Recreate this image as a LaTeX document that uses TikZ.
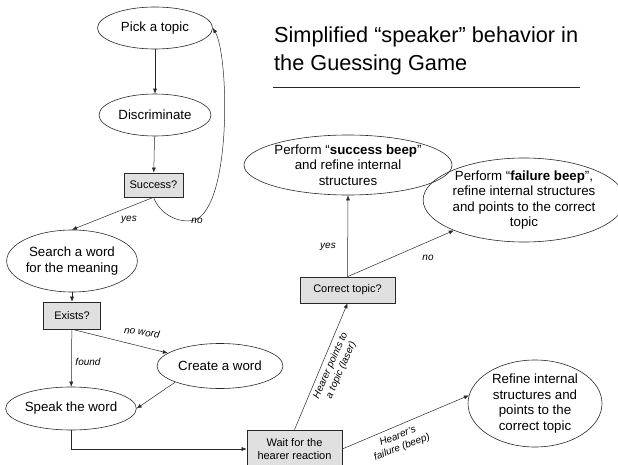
\documentclass[tikz,border=0pt]{standalone}
\usepackage{fontspec}
\setmainfont{Liberation Sans}
\usetikzlibrary{shapes.geometric,arrows.meta}
\definecolor{boxfill}{RGB}{224,224,224}
\definecolor{linecol}{RGB}{40,40,40}
\begin{document}
\begin{tikzpicture}[x=1pt,y=-1pt,
  ell/.style={ellipse,draw=linecol,line width=0.6pt,inner sep=0pt,align=center,font=\fontsize{13.3}{15.5}\selectfont},
  boxn/.style={rectangle,draw=linecol,line width=0.6pt,fill=boxfill,inner sep=0pt,align=center,font=\fontsize{11}{13.5}\selectfont},
  arr/.style={draw=linecol,line width=0.5pt,-{Latex[length=5pt,width=4pt]}},
  lab/.style={font=\fontsize{10}{12}\selectfont\itshape,inner sep=0pt,align=center}]
\useasboundingbox (0,0) rectangle (618,465);
% title
\node[anchor=west,font=\fontsize{21.7}{28}\selectfont,align=left,inner sep=0pt] (title) at (274,51) {Simplified “speaker” behavior in\\the Guessing Game};
\draw[linecol,line width=0.6pt] (273,87) coordinate (tl) -- (580,87) coordinate (tr);
% left column
\node[ell,minimum width=115,minimum height=42] (pick) at (155,28) {Pick a topic};
\node[ell,minimum width=112,minimum height=42] (disc) at (155,115) {Discriminate};
\node[boxn,minimum width=59,minimum height=24] (succ) at (153.5,185) {Success?};
\node[ell,minimum width=127,minimum height=62] (search) at (72,261) {Search a word\\for the meaning};
\node[boxn,minimum width=57,minimum height=27] (exists) at (72,315.5) {Exists?};
\node[ell,minimum width=126,minimum height=45] (create) at (220,366) {Create a word};
\node[ell,minimum width=125,minimum height=43] (speak) at (71,408.5) {Speak the word};
\node[boxn,minimum width=95,minimum height=38] (wait) at (294.5,449) {Wait for the\\hearer reaction};
% right part
\node[boxn,minimum width=95,minimum height=26] (correct) at (347.5,290) {Correct topic?};
\node[ell,minimum width=193,minimum height=60] (sbeep) at (348,165) {Perform “\textbf{success beep}”\\and refine internal\\structures};
\node[ell,minimum width=188,minimum height=84] (fbeep) at (524,200) {Perform “\textbf{failure beep}”,\\refine internal structures\\and points to the correct\\topic};
\node[ell,minimum width=134,minimum height=87] (refine) at (535,403.5) {Refine internal\\structures and\\points to the\\correct topic};
% connectors
\draw[arr] (pick) -- (disc);
\draw[arr] (disc) -- (succ);
\draw[arr] (succ.south) -- (search.north);
\draw[arr] (succ.south) .. controls (160,214) and (178,224) .. (195,220) .. controls (232,205) and (229,55) .. (pick.east);
\draw[arr] (search) -- (exists);
\draw[arr] (exists) -- (speak);
\draw[arr] (exists.south) -- (create);
\draw[arr] (create.south west) -- (speak.east);
\draw[arr] (speak.south) |- (wait.west);
\draw[arr] (wait.north) -- (correct.south);
\draw[arr] (wait.east) -- (refine.173);
\draw[arr] (correct.north) -- (sbeep.south);
\draw[arr] (correct.north) -- (fbeep);
% labels
\node[lab] (lyes1) at (129,220) {yes};
\node[lab] (lno1) at (197,221) {no};
\node[lab,rotate=-8] (lnoword) at (142,332) {no word};
\node[lab] (lfound) at (88,362) {found};
\node[lab] (lyes2) at (328,247) {yes};
\node[lab] (lno2) at (428,258) {no};
\node[lab,font=\fontsize{10}{11.5}\selectfont\itshape,rotate=66] (lpoint) at (336,368) {Hearer points to\\a topic (laser)};
\node[lab,font=\fontsize{10}{11.5}\selectfont\itshape,rotate=21] (lfail) at (400,442) {Hearer's\\failure (beep)};
\end{tikzpicture}
\end{document}
